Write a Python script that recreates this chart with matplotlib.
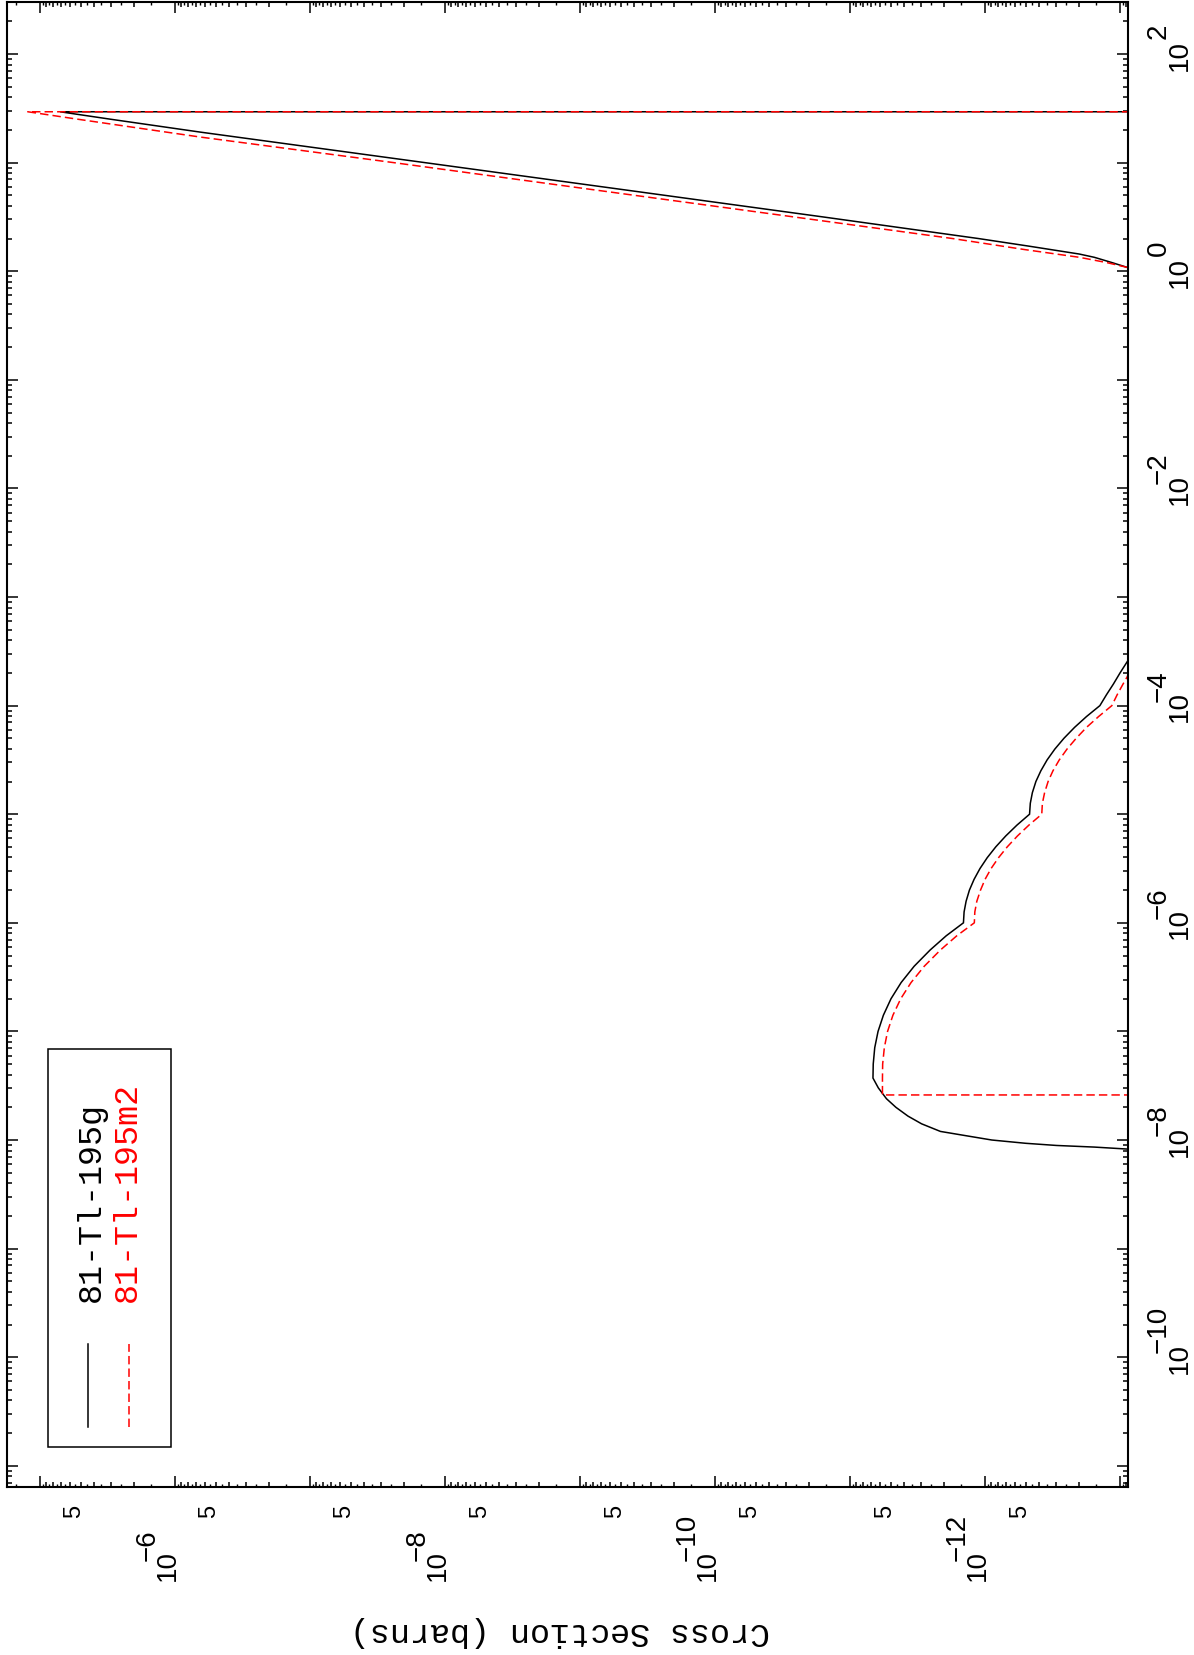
import numpy as np
import matplotlib
matplotlib.use("Agg")
import matplotlib.pyplot as plt
from matplotlib import transforms as mtrans
from matplotlib.ticker import FixedLocator, NullFormatter, NullLocator
from matplotlib.lines import Line2D
from matplotlib.patches import Rectangle

# ---------------- data (energy, cross section in barns) ----------------
series_names = ["81-Tl-195g", "81-Tl-195m2"]
series_colors = ["black", "red"]

black_E = [8.13e-9, 8.26e-9, 8.61e-9, 8.91e-9, 9.33e-9, 1.00e-8, 1.10e-8, 1.20e-8, 1.41e-8,
           1.66e-8, 2.00e-8, 2.40e-8, 3.02e-8, 3.72e-8,
           5.01e-8, 7.08e-8, 1.00e-7, 1.41e-7, 2.00e-7, 2.82e-7, 3.98e-7, 5.62e-7, 7.59e-7, 1.00e-6,
           1.26e-6, 1.58e-6, 2.00e-6, 2.51e-6, 3.16e-6, 3.98e-6, 5.01e-6, 6.31e-6, 7.94e-6, 1.00e-5,
           1.26e-5, 1.58e-5, 2.00e-5, 2.51e-5, 3.16e-5, 3.98e-5, 5.01e-5, 6.31e-5, 7.94e-5, 1.00e-4,
           1.26e-4, 1.58e-4, 2.00e-4, 2.51e-4, 3.16e-4, 5.00e-4,
           1.0, 1.087, 1.202, 1.343, 1.439, 1.698, 2.0, 3.16, 5.62, 10.0, 19.1, 25.1, 29.4, 29.4]
black_S = [3.2e-14, 8.9e-14, 1.55e-13, 2.95e-13, 5.0e-13, 8.9e-13, 1.41e-12, 2.14e-12, 2.95e-12,
           3.72e-12, 4.57e-12, 5.37e-12, 6.17e-12, 6.76e-12,
           6.73e-12, 6.56e-12, 6.20e-12, 5.66e-12, 4.97e-12, 4.18e-12, 3.35e-12, 2.55e-12, 1.94e-12, 1.445e-12,
           1.429e-12, 1.381e-12, 1.305e-12, 1.206e-12, 1.090e-12, 9.63e-13, 8.32e-13, 7.02e-13, 5.80e-13, 4.68e-13,
           4.62e-13, 4.46e-13, 4.20e-13, 3.86e-13, 3.47e-13, 3.04e-13, 2.60e-13, 2.17e-13, 1.77e-13, 1.41e-13,
           1.26e-13, 1.12e-13, 1.0e-13, 8.9e-14, 7.9e-14, 5.0e-14,
           7.1e-14, 8.9e-14, 1.15e-13, 1.55e-13, 2.0e-13, 4.68e-13, 1.12e-12, 1.58e-11, 4.7e-10, 1.41e-8,
           6.5e-7, 3.0e-6, 7.1e-6, 1e-20]

red_E = [2.6e-8, 2.6e-8, 3.72e-8,
         5.01e-8, 7.08e-8, 1.00e-7, 1.41e-7, 2.00e-7, 2.82e-7, 3.98e-7, 5.62e-7, 7.59e-7, 1.00e-6,
         1.26e-6, 1.58e-6, 2.00e-6, 2.51e-6, 3.16e-6, 3.98e-6, 5.01e-6, 6.31e-6, 7.94e-6, 1.00e-5,
         1.26e-5, 1.58e-5, 2.00e-5, 2.51e-5, 3.16e-5, 3.98e-5, 5.01e-5, 6.31e-5, 7.94e-5, 1.00e-4,
         1.26e-4, 1.58e-4, 1.82e-4, 2.51e-4, 3.16e-4,
         1.0, 1.087, 1.202, 1.343, 1.585, 2.0, 3.16, 5.62, 10.0, 17.2, 25.1, 29.4, 29.4]
red_S = [1e-20, 5.75e-12, 5.75e-12,
         5.73e-12, 5.57e-12, 5.27e-12, 4.81e-12, 4.21e-12, 3.53e-12, 2.82e-12, 2.14e-12, 1.62e-12, 1.20e-12,
         1.19e-12, 1.15e-12, 1.08e-12, 1.0e-12, 9.02e-13, 7.94e-13, 6.84e-13, 5.75e-13, 4.73e-13, 3.80e-13,
         3.76e-13, 3.62e-13, 3.41e-13, 3.14e-13, 2.82e-13, 2.47e-13, 2.11e-13, 1.77e-13, 1.44e-13, 1.15e-13,
         1.05e-13, 9.5e-14, 8.9e-14, 7.9e-14, 7.1e-14,
         5.6e-14, 8.9e-14, 1.26e-13, 2.0e-13, 5.13e-13, 1.74e-12, 2.6e-11, 7.9e-10, 2.4e-8, 6.5e-7,
         5.25e-6, 1.23e-5, 1e-20]

# axis ranges
xs_lim = (10 ** -4.756, 10 ** -13.059)   # cross section (drawn horizontally, decreasing to the right)
e_lim = (10 ** -11.195, 10 ** 2.479)     # energy (drawn vertically)
xs_label_exps = [-6, -8, -10, -12]
xs_five_exps = [-6, -7, -8, -9, -10, -11, -12, -13]
e_label_exps = [2, 0, -2, -4, -6, -8, -10]
ylabel_text = "Cross Section (barns)"

# ---------------- figure ----------------
W, H, DPI = 1194, 1656, 100
fig = plt.figure(figsize=(W / DPI, H / DPI), dpi=DPI)
L, R, T, B = 7, 1128, 3, 1488
ax = fig.add_axes([L / W, 1 - B / H, (R - L) / W, (B - T) / H])
ax.set_xscale("log")
ax.set_yscale("log")

# half-step minor ticks on the cross-section axis via a twin
ax2 = ax.twiny()
ax2.set_xscale("log")

ax.set_xlim(*xs_lim)
ax.set_ylim(*e_lim)
ax2.set_xlim(*xs_lim)

px = 72.0 / DPI
maj_x = [10.0 ** e for e in range(-14, -3)]
min_x = [m * 10.0 ** e for e in range(-14, -4) for m in range(2, 10)]
half_x = [m * 10.0 ** e for e in range(-14, -4) for m in np.arange(1.5, 10, 1.0)]
maj_y = [10.0 ** e for e in range(-12, 4)]
min_y = [m * 10.0 ** e for e in range(-12, 3) for m in range(2, 10)]

ax.xaxis.set_major_locator(FixedLocator(maj_x))
ax.xaxis.set_minor_locator(FixedLocator(min_x))
ax.yaxis.set_major_locator(FixedLocator(maj_y))
ax.yaxis.set_minor_locator(FixedLocator(min_y))
for a in (ax.xaxis, ax.yaxis, ax2.xaxis):
    a.set_major_formatter(NullFormatter())
    a.set_minor_formatter(NullFormatter())
ax2.xaxis.set_major_locator(NullLocator())
ax2.xaxis.set_minor_locator(FixedLocator(half_x))

ax.tick_params(which="both", direction="in", top=True, bottom=True, left=True, right=True,
               labelbottom=False, labeltop=False, labelleft=False, labelright=False,
               width=1.1, color="black")
ax.tick_params(which="major", length=11 * px)
ax.tick_params(which="minor", length=5 * px)
ax2.tick_params(which="minor", direction="in", top=True, bottom=True, length=3 * px, width=1.0,
                labeltop=False, labelbottom=False)
for s in ax2.spines.values():
    s.set_visible(False)
for s in ax.spines.values():
    s.set_linewidth(1.5)

# ---------------- data lines ----------------
ax.plot(black_S, black_E, color=series_colors[0], lw=1.1, solid_joinstyle="miter")
ax.plot(red_S, red_E, color=series_colors[1], lw=1.1, linestyle=(0, (5.5, 2.7)))

# ---------------- tick labels (drawn rotated, as on the page) ----------------
num_font = "Liberation Sans"
mono_font = "Liberation Mono"


def off(dx_px, dy_px):
    return mtrans.ScaledTranslation(dx_px / DPI, dy_px / DPI, fig.dpi_scale_trans)


# energy labels on the right side
tr_e = mtrans.blended_transform_factory(ax.transAxes, ax.transData)
for e in e_label_exps:
    ax.text(1.0, 10.0 ** e, "10", transform=tr_e + off(59, 0), rotation=90, rotation_mode="anchor",
            ha="center", va="baseline", fontsize=20, family=num_font, clip_on=False)
    exp_txt = ("\u2212" + str(-e)) if e < 0 else str(e)
    ax.text(1.0, 10.0 ** e, exp_txt, transform=tr_e + off(38, 5 if e < 0 else 16),
            rotation=90, rotation_mode="anchor", ha="left", va="baseline", fontsize=20,
            family=num_font, clip_on=False)

# cross-section labels along the bottom
tr_x = mtrans.blended_transform_factory(ax.transData, ax.transAxes)
for e in xs_label_exps:
    ax.text(10.0 ** e, 0.0, "10", transform=tr_x + off(0, -62), rotation=90, rotation_mode="anchor",
            ha="right", va="baseline", fontsize=20, family=num_font, clip_on=False)
    ax.text(10.0 ** e, 0.0, "\u2212" + str(-e), transform=tr_x + off(-20, -73), rotation=90,
            rotation_mode="anchor", ha="left", va="baseline", fontsize=20, family=num_font,
            clip_on=False)
for e in xs_five_exps:
    ax.text(5 * 10.0 ** e, 0.0, "5", transform=tr_x + off(0, -17), rotation=90, rotation_mode="anchor",
            ha="right", va="baseline", fontsize=17, family=num_font, clip_on=False)

# axis title (upside down, as on the rotated page)
fig.text(560 / W, 1 - 1632 / H, ylabel_text, rotation=180, rotation_mode="anchor",
         ha="center", va="center", fontsize=24, family=mono_font)

# ---------------- legend (rotated) ----------------
ax.add_patch(Rectangle((0.0366, 0.0269), 0.1463 - 0.0366, 0.2949 - 0.0269, transform=ax.transAxes,
                       fill=False, lw=1.1, edgecolor="black", zorder=5))
ax.add_line(Line2D([0.0725, 0.0725], [0.0404, 0.0963], transform=ax.transAxes,
                   color=series_colors[0], lw=1.1, zorder=6))
ax.add_line(Line2D([0.1091, 0.1091], [0.0404, 0.0963], transform=ax.transAxes,
                   color=series_colors[1], lw=1.1, linestyle=(0, (5.5, 2.7)), zorder=6))
ax.text(0.083, 0.1253, series_names[0], transform=ax.transAxes, rotation=90, rotation_mode="anchor",
        ha="left", va="baseline", fontsize=24, family=mono_font, color=series_colors[0])
ax.text(0.115, 0.1253, series_names[1], transform=ax.transAxes, rotation=90, rotation_mode="anchor",
        ha="left", va="baseline", fontsize=24, family=mono_font, color=series_colors[1])

fig.savefig("out.png", dpi=DPI)
